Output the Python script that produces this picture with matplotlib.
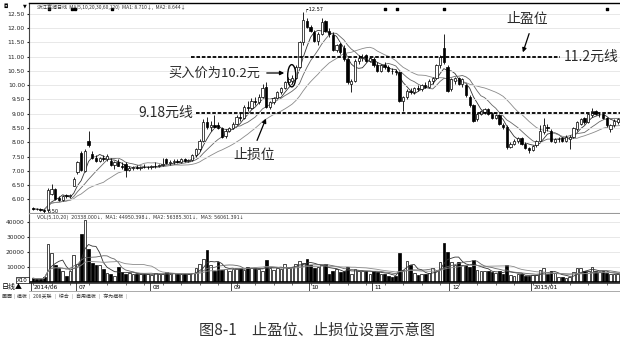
import numpy as np
import pandas as pd
import matplotlib
matplotlib.use("Agg")
import matplotlib.pyplot as plt
from matplotlib.patches import Ellipse

plt.rcParams['font.family'] = ['Noto Sans CJK SC', 'DejaVu Sans']

# daily candles, 2014/06 - 2015/01
opens = [5.68, 5.66, 5.65, 5.62, 5.62, 6.20, 6.36, 6.05, 5.98, 6.15,
         6.10, 6.48, 6.95, 7.64, 7.00, 8.05, 7.58, 7.45, 7.36, 7.45,
         7.40, 7.35, 7.20, 7.30, 7.18, 7.22, 7.02, 7.10, 7.12, 7.10,
         7.14, 7.12, 7.12, 7.16, 7.18, 7.20, 7.40, 7.26, 7.30, 7.35,
         7.32, 7.40, 7.34, 7.38, 7.55, 7.75, 8.05, 8.70, 8.55, 8.62,
         8.60, 8.50, 8.22, 8.40, 8.50, 8.65, 8.90, 8.85, 9.25, 9.20,
         9.45, 9.40, 9.60, 9.95, 9.25, 9.40, 9.55, 9.75, 9.90, 10.10,
         10.15, 10.25, 10.65, 11.50, 12.25, 12.05, 11.85, 11.55, 11.80, 12.25,
         11.90, 11.75, 11.25, 11.45, 11.30, 10.90, 10.05, 10.15, 10.85, 10.95,
         11.05, 10.85, 10.92, 10.72, 10.50, 10.70, 10.65, 10.50, 10.48, 10.45,
         9.45, 9.58, 9.80, 9.75, 9.90, 9.85, 10.00, 9.95, 10.15, 10.25,
         10.70, 11.30, 10.65, 9.85, 10.15, 10.25, 10.05, 10.00, 9.60, 9.30,
         8.80, 9.00, 9.05, 9.15, 9.00, 8.85, 8.95, 8.62, 8.55, 7.85,
         7.95, 8.05, 8.15, 7.95, 7.80, 7.72, 7.90, 8.05, 8.35, 8.55,
         8.40, 8.02, 8.10, 8.15, 8.05, 8.10, 8.20, 8.45, 8.65, 8.85,
         8.70, 8.95, 9.08, 8.98, 9.00, 8.85, 8.45, 8.60, 8.72, 8.78]
highs = [5.72, 5.70, 5.68, 5.66, 6.40, 6.55, 6.40, 6.10, 6.15, 6.20,
         6.20, 6.78, 7.35, 7.70, 7.75, 8.40, 7.70, 7.55, 7.50, 7.55,
         7.58, 7.45, 7.35, 7.40, 7.30, 7.32, 7.15, 7.18, 7.20, 7.18,
         7.22, 7.18, 7.20, 7.30, 7.25, 7.45, 7.45, 7.38, 7.40, 7.42,
         7.45, 7.45, 7.42, 7.60, 7.80, 8.10, 8.80, 8.90, 8.75, 8.95,
         8.70, 8.55, 8.45, 8.55, 8.70, 8.95, 9.05, 9.30, 9.45, 9.55,
         9.60, 9.70, 10.05, 10.10, 9.45, 9.60, 9.80, 9.95, 10.15, 10.30,
         10.35, 10.70, 11.55, 12.57, 12.35, 12.10, 11.95, 11.85, 12.35, 12.30,
         12.00, 11.85, 11.45, 11.50, 11.40, 10.95, 10.20, 10.90, 11.05, 11.10,
         11.10, 11.00, 10.98, 10.80, 10.75, 10.80, 10.72, 10.60, 10.55, 10.50,
         9.62, 9.85, 9.90, 9.95, 10.00, 10.05, 10.10, 10.20, 10.30, 10.75,
         11.05, 11.78, 10.70, 10.25, 10.30, 10.30, 10.25, 10.05, 9.65, 9.35,
         9.05, 9.12, 9.20, 9.20, 9.05, 8.98, 9.00, 8.68, 8.60, 8.00,
         8.10, 8.20, 8.20, 8.00, 7.85, 7.92, 8.08, 8.60, 8.85, 8.65,
         8.45, 8.15, 8.18, 8.20, 8.25, 8.25, 8.55, 8.75, 8.85, 8.90,
         9.02, 9.20, 9.12, 9.05, 9.02, 8.88, 8.65, 8.80, 8.85, 8.82]
lows = [5.64, 5.62, 5.60, 5.50, 5.55, 6.15, 5.98, 5.95, 5.95, 6.05,
        6.05, 6.45, 6.90, 6.98, 6.95, 7.85, 7.40, 7.30, 7.30, 7.35,
        7.35, 7.15, 7.05, 7.15, 7.05, 6.78, 6.98, 7.02, 7.05, 7.04,
        7.08, 7.06, 7.06, 7.10, 7.12, 7.15, 7.22, 7.20, 7.25, 7.28,
        7.28, 7.30, 7.30, 7.35, 7.50, 7.70, 8.00, 8.45, 8.40, 8.50,
        8.45, 8.15, 8.15, 8.35, 8.45, 8.60, 8.75, 8.80, 9.10, 9.15,
        9.30, 9.35, 9.55, 9.20, 9.15, 9.35, 9.50, 9.70, 9.85, 10.05,
        10.05, 10.20, 10.60, 11.40, 12.00, 11.85, 11.50, 11.40, 11.75, 11.85,
        11.70, 11.20, 11.15, 11.10, 10.85, 10.05, 9.75, 10.10, 10.75, 10.85,
        10.80, 10.80, 10.65, 10.45, 10.45, 10.55, 10.45, 10.40, 10.35, 9.40,
        9.10, 9.50, 9.70, 9.70, 9.80, 9.80, 9.90, 9.90, 10.05, 10.20,
        10.60, 10.75, 9.75, 9.80, 10.05, 10.00, 9.95, 9.60, 9.25, 8.70,
        8.75, 8.95, 9.00, 8.95, 8.80, 8.80, 8.60, 8.45, 7.78, 7.80,
        7.90, 7.98, 7.92, 7.75, 7.62, 7.68, 7.85, 8.00, 8.30, 8.40,
        8.02, 7.98, 8.02, 8.00, 8.00, 7.75, 8.15, 8.40, 8.60, 8.65,
        8.68, 8.90, 8.95, 8.90, 8.80, 8.55, 8.35, 8.55, 8.65, 8.62]
closes = [5.66, 5.65, 5.62, 5.60, 6.32, 6.35, 6.02, 5.98, 6.12, 6.10,
          6.15, 6.72, 7.30, 7.02, 7.70, 7.90, 7.45, 7.36, 7.45, 7.40,
          7.52, 7.20, 7.30, 7.18, 7.12, 7.02, 7.10, 7.12, 7.10, 7.14,
          7.12, 7.14, 7.16, 7.18, 7.20, 7.22, 7.26, 7.30, 7.35, 7.32,
          7.40, 7.34, 7.38, 7.55, 7.75, 8.05, 8.70, 8.55, 8.62, 8.55,
          8.50, 8.20, 8.40, 8.50, 8.65, 8.90, 8.85, 9.25, 9.20, 9.45,
          9.40, 9.60, 9.90, 9.25, 9.40, 9.55, 9.75, 9.90, 10.10, 10.20,
          10.25, 10.65, 11.50, 12.30, 12.05, 11.90, 11.55, 11.80, 12.20, 11.90,
          11.80, 11.25, 11.40, 11.15, 10.90, 10.10, 10.15, 10.85, 10.95, 11.00,
          10.85, 10.95, 10.70, 10.50, 10.70, 10.62, 10.50, 10.48, 10.45, 9.45,
          9.58, 9.80, 9.75, 9.90, 9.85, 10.00, 9.95, 10.15, 10.25, 10.70,
          11.00, 10.80, 9.80, 10.20, 10.25, 10.05, 10.20, 9.65, 9.30, 8.75,
          9.00, 9.10, 9.15, 9.00, 8.85, 8.95, 8.65, 8.55, 7.82, 7.95,
          8.05, 8.15, 7.95, 7.80, 7.72, 7.88, 8.05, 8.40, 8.60, 8.50,
          8.05, 8.10, 8.12, 8.05, 8.20, 8.20, 8.50, 8.70, 8.80, 8.70,
          8.98, 9.10, 8.98, 9.00, 8.85, 8.60, 8.60, 8.75, 8.80, 8.70]
volumes = [2500, 2000, 2200, 3000, 25500, 19500, 11500, 9500, 7000, 4000,
           7000, 18000, 12000, 32000, 41000, 22000, 12500, 11000, 11000, 8500,
           6000, 5000, 4000, 10000, 6500, 5500, 6000, 5000, 5500, 5000,
           5200, 5200, 4800, 6000, 5500, 5000, 6500, 5500, 5800, 5200,
           5000, 5500, 5000, 6000, 9000, 12000, 15000, 21500, 11000, 7500,
           13500, 8000, 8500, 7500, 8500, 9000, 9500, 8000, 10000, 9000,
           9500, 8500, 7500, 14500, 9000, 8000, 9500, 8500, 12000, 9000,
           10000, 12000, 14000, 12500, 15000, 11500, 9500, 10000, 11000, 12000,
           5500, 7500, 8500, 6500, 7000, 10000, 5000, 8500, 7500, 7000,
           7500, 5500, 7000, 6800, 5500, 5500, 4000, 3000, 4000, 19500,
           8000, 14000, 11000, 6000, 4800, 5000, 5500, 6000, 9000, 7000,
           13000, 26000, 20000, 13000, 11000, 13000, 11500, 11500, 10000, 14500,
           8000, 7500, 7000, 7000, 6500, 6000, 7000, 5000, 11000, 4500,
           4000, 5000, 5000, 4000, 4000, 4500, 4500, 8000, 9000, 5000,
           7000, 6000, 3000, 3500, 2800, 3500, 6500, 9000, 9500, 7000,
           7000, 10000, 7000, 6500, 7000, 6000, 5000, 5500, 5000, 4500]

month_idx = [0, 12, 32, 54, 75, 92, 113, 135]
month_labels = ["2014/06", "07", "08", "09", "10", "11", "12", "2015/01"]
info_marks = [4.3, 10.5, 11.4, 21.4, 95, 98.4, 111, 155]

profit_level = 11.0   # where the 11.2 line sits on the scale
loss_level = 9.03     # where the 9.18 line sits on the scale
buy_idx, buy_price = 70, 10.33

df = pd.DataFrame({"open": opens, "high": highs, "low": lows,
                   "close": closes, "vol": volumes})
x = np.arange(len(df))
up = df["close"] >= df["open"]
fill = np.where(up, "white", "black")

W, H = 620, 349
fig = plt.figure(figsize=(W / 100, H / 100), dpi=100)


def box(x0, y0, x1, y1):
    return [x0 / W, 1 - y1 / H, (x1 - x0) / W, (y1 - y0) / H]


def fpos(px, py):
    return px / W, 1 - py / H


xlim = (-1.1, 158.6)

# ---- price panel
ax = fig.add_axes(box(29, 3, 620, 213))
ax.set_xlim(*xlim)
ax.set_ylim(5.52, 12.88)
ax.grid(axis="y", color="#e4e4e4", lw=0.6, zorder=0)
for w, c in [(5, "#333333"), (10, "#666666"), (20, "#8a8a8a")]:
    ax.plot(x, df["close"].rolling(w, min_periods=1).mean(), color=c, lw=0.6, zorder=1.5)
ax.vlines(x, df["low"], df["high"], color="black", lw=0.6, zorder=2)
body = np.maximum((df["close"] - df["open"]).abs(), 0.02)
ax.bar(x, body, bottom=np.minimum(df["open"], df["close"]), width=0.62,
       color=fill, edgecolor="black", lw=0.5, zorder=3)
ax.scatter(info_marks, [12.66] * len(info_marks), marker="s", s=2.5, color="black", zorder=4)

ax.set_yticks(np.arange(6.0, 12.51, 0.5))
ax.set_yticklabels([f"{v:.2f}" for v in np.arange(6.0, 12.51, 0.5)], family="DejaVu Sans")
ax.tick_params(axis="y", labelsize=4.3, length=1.5, pad=1.5, colors="#222222")
ax.set_xticks([])
ax.spines["right"].set_visible(False)
ax.spines["top"].set_color("black")
ax.spines["top"].set_linewidth(1.0)
ax.spines["left"].set_linestyle((0, (1, 1)))
ax.spines["left"].set_color("#444444")
ax.spines["bottom"].set_color("#9a9a9a")
ax.spines["bottom"].set_linewidth(0.8)

ax.text(73.3, 12.66, "\u250c-12.57", fontsize=3.6, va="center", family="DejaVu Sans")
ax.text(4.0, 5.58, "5.50", fontsize=3.6, va="center", family="DejaVu Sans")

# stop levels
ax.hlines(profit_level, 42.7, 142.4, color="black", lw=1.3, linestyles=(0, (2, 1)), zorder=5)
ax.hlines(loss_level, 44.0, xlim[1], color="black", lw=1.3, linestyles=(0, (2, 1)), zorder=5)
ax.add_patch(Ellipse((buy_idx - 0.1, buy_price), 2.2, 0.78, fill=False, lw=1.0, color="black", zorder=6))

tc = "#2a2a2a"
fig.text(*fpos(527, 19), "止盈位", fontsize=10, ha="center", va="center", color=tc)
fig.text(*fpos(564, 57), "11.2元线", fontsize=10, ha="left", va="center", color=tc)
fig.text(*fpos(260, 73), "买入价为10.2元", fontsize=9.5, ha="right", va="center", color=tc)
fig.text(*fpos(193, 113), "9.18元线", fontsize=10, ha="right", va="center", color=tc)
fig.text(*fpos(254, 155), "止损位", fontsize=10, ha="center", va="center", color=tc)

arrow = dict(arrowstyle="-|>", color="black", lw=0.9, mutation_scale=6)
ax.annotate("", xy=(522, H - 55), xytext=(530, H - 31), xycoords="figure pixels", arrowprops=arrow)
ax.annotate("", xy=(287, H - 73), xytext=(264, H - 73), xycoords="figure pixels", arrowprops=arrow)
ax.annotate("", xy=(267, H - 116), xytext=(256, H - 143), xycoords="figure pixels", arrowprops=arrow)

fig.text(*fpos(37, 7), "浙江富润日线  MA(5,10,20,30,60,120)  MA1: 8.710\u2193,  MA2: 8.644\u2193",
         fontsize=3.6, va="center", color="#333333")
fig.text(*fpos(3, 6), "\u25d8", fontsize=4, va="center", family="DejaVu Sans")
fig.text(*fpos(23, 6), "\u25bc", fontsize=3.5, va="center", family="DejaVu Sans")

# ---- volume panel
axv = fig.add_axes(box(29, 214, 620, 282))
axv.set_xlim(*xlim)
axv.set_ylim(0, 45300)
axv.grid(axis="y", color="#e4e4e4", lw=0.6, zorder=0)
axv.bar(x, df["vol"], width=0.72, color=fill, edgecolor="black", lw=0.5, zorder=2)
for w, c in [(5, "#333333"), (10, "#666666"), (20, "#8a8a8a")]:
    axv.plot(x, df["vol"].rolling(w, min_periods=1).mean(), color=c, lw=0.6, zorder=3)
axv.set_yticks([10000, 20000, 30000, 40000])
axv.set_yticklabels(["10000", "20000", "30000", "40000"], family="DejaVu Sans")
axv.tick_params(axis="y", labelsize=4.3, length=1.5, pad=1.5, colors="#222222")
axv.set_xticks([])
axv.spines["right"].set_visible(False)
axv.spines["top"].set_visible(False)
axv.spines["left"].set_linestyle((0, (1, 1)))
axv.spines["left"].set_color("#444444")
axv.spines["bottom"].set_linestyle((0, (2, 1)))
axv.spines["bottom"].set_linewidth(1.2)
fig.text(*fpos(37, 218), "VOL(5,10,20)  20338.000\u2193,  MA1: 44950.398\u2193,  MA2: 56385.301\u2193,  MA3: 56061.391\u2193",
         fontsize=3.4, va="center", color="#333333", family="DejaVu Sans")
fig.text(*fpos(17, 280), "X10", fontsize=4, va="center", family="DejaVu Sans",
         bbox=dict(boxstyle="square,pad=0.15", fc="white", ec="black", lw=0.5))

# ---- date strip
axd = fig.add_axes(box(29, 283, 620, 291))
axd.set_xlim(*xlim)
axd.set_ylim(0, 1)
axd.set_yticks([])
axd.set_xticks(np.arange(0, 159, 5), minor=True)
axd.set_xticks([])
axd.tick_params(axis="x", which="minor", direction="in", length=1.2, width=0.4, top=True, bottom=False)
for s in ["left", "right"]:
    axd.spines[s].set_visible(False)
axd.spines["bottom"].set_color("#888888")
axd.spines["bottom"].set_linewidth(0.5)
axd.spines["top"].set_linewidth(0.5)
for i, lab in zip(month_idx, month_labels):
    axd.axvline(i - 0.5, color="black", lw=0.5)
    axd.text(i + 0.2, 0.45, lab, fontsize=4.2, va="center", family="DejaVu Sans")
fig.text(*fpos(2, 287), "日线\u25b2", fontsize=5, va="center")
fig.text(*fpos(2, 296), "画面│模板│ 208关联 │ 综合 │ 自用模板 │ 存为模板 │", fontsize=3.6, va="center", color="#333333")

fig.text(*fpos(317, 330), "图8-1\u3000止盈位、止损位设置示意图", fontsize=11, ha="center", va="center", color="#333333")

fig.savefig("out.png", dpi=100)
